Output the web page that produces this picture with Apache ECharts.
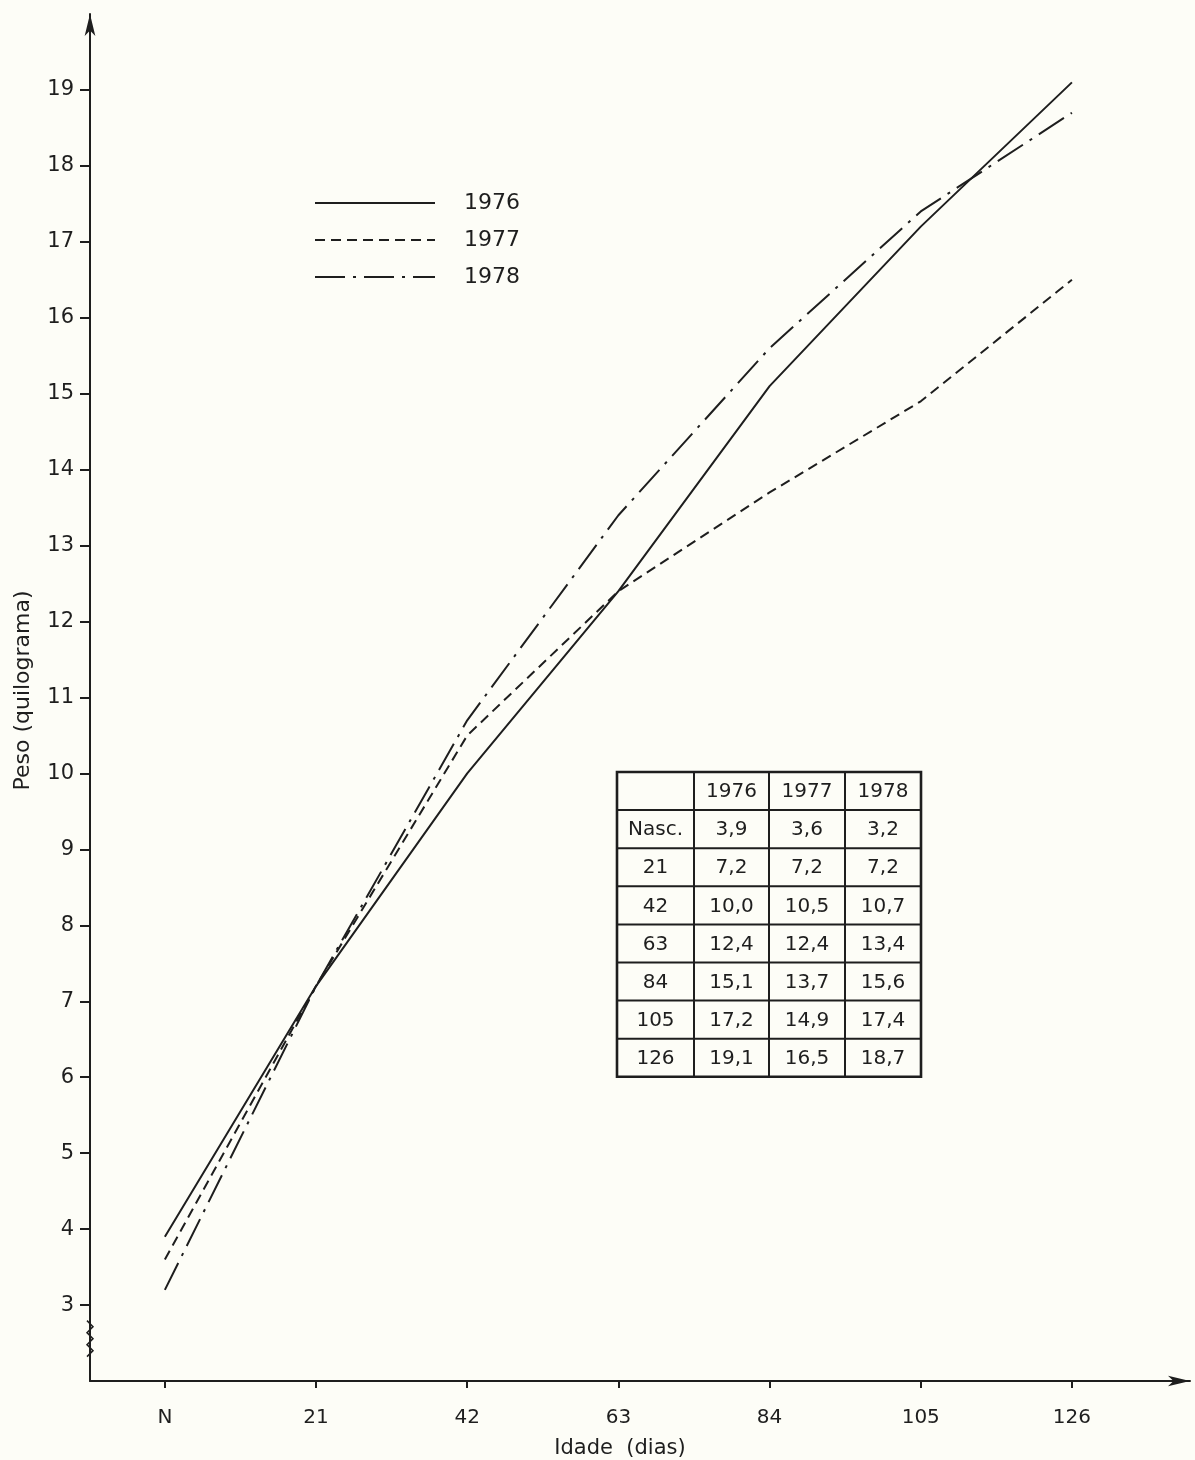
<!DOCTYPE html>
<html>
<head>
<meta charset="utf-8">
<script src="https://cdn.jsdelivr.net/npm/echarts@6/dist/echarts.min.js"></script>
<style>
  html, body { margin: 0; padding: 0; background: #fdfdf7; }
  #chart { width: 1195px; height: 1460px; }
</style>
</head>
<body>
<div id="chart"></div>
<script>
// idade (dias) e peso (kg)
var ages = [0, 21, 42, 63, 84, 105, 126];
var ageLabels = ['N', '21', '42', '63', '84', '105', '126'];
var tableLabels = ['Nasc.', '21', '42', '63', '84', '105', '126'];
var years = ['1976', '1977', '1978'];
var peso1976 = [3.9, 7.2, 10.0, 12.4, 15.1, 17.2, 19.1];
var peso1977 = [3.6, 7.2, 10.5, 12.4, 13.7, 14.9, 16.5];
var peso1978 = [3.2, 7.2, 10.7, 13.4, 15.6, 17.4, 18.7];
var yTicks = [3, 4, 5, 6, 7, 8, 9, 10, 11, 12, 13, 14, 15, 16, 17, 18, 19];

var ink = '#1e1e1e';
var font = 'DejaVu Sans';
var chart = echarts.init(document.getElementById('chart'));

function pairs(vals) {
  return ages.map(function (a, i) { return [a, vals[i]]; });
}

var dashes = [null, [10, 6], [30, 8, 3, 8]];
var seriesVals = [peso1976, peso1977, peso1978];

chart.setOption({
  backgroundColor: '#fdfdf7',
  animation: false,
  grid: { left: 90, right: 5, top: 14, bottom: 79, containLabel: false, outerBoundsMode: 'none' },
  legend: {
    orient: 'vertical',
    left: 309,
    top: 187,
    itemWidth: 120,
    itemHeight: 14,
    itemGap: 15,
    data: years,
    itemStyle: { opacity: 0 },
    textStyle: { color: ink, fontFamily: font, fontSize: 22, padding: [0, 0, 0, 24] }
  },
  xAxis: {
    type: 'value',
    min: -10.4,
    max: 142.4,
    name: 'Idade  (dias)',
    nameLocation: 'middle',
    nameGap: 57,
    nameTextStyle: { color: ink, fontFamily: font, fontSize: 21, padding: [0, 40, 0, 0] },
    splitLine: { show: false },
    axisLine: { onZero: false, lineStyle: { color: ink, width: 2 }, symbol: ['none', 'arrow'], symbolSize: [8, 22] },
    axisTick: { length: 7, lineStyle: { color: ink, width: 2 }, customValues: ages },
    axisLabel: {
      color: ink, fontFamily: font, fontSize: 20, margin: 27,
      customValues: ages,
      formatter: function (v) { return ageLabels[ages.indexOf(v)]; }
    }
  },
  yAxis: {
    type: 'value',
    min: 2,
    max: 20,
    name: 'Peso (quilograma)',
    nameLocation: 'middle',
    nameGap: 56,
    nameTextStyle: { color: ink, fontFamily: font, fontSize: 22, padding: [0, 0, 0, 14] },
    splitLine: { show: false },
    axisLine: { onZero: false, lineStyle: { color: ink, width: 2 }, symbol: ['none', 'arrow'], symbolSize: [8, 22] },
    axisTick: { length: 10, lineStyle: { color: ink, width: 2 }, customValues: yTicks },
    axisLabel: { color: ink, fontFamily: font, fontSize: 21, margin: 16, customValues: yTicks }
  },
  series: years.map(function (y, k) {
    return {
      name: y,
      type: 'line',
      symbol: 'none',
      data: pairs(seriesVals[k]),
      itemStyle: { color: ink },
      lineStyle: { color: ink, width: 2, type: dashes[k] || 'solid' }
    };
  })
});

var gfx = [];

// tabela montada a partir dos arrays
var tx = [617, 694, 769, 845, 921];
var ty0 = 772, rowH = 38.1;
var nRows = ages.length + 1;
gfx.push({
  type: 'rect',
  shape: { x: tx[0], y: ty0, width: tx[4] - tx[0], height: rowH * nRows },
  style: { fill: '#fdfdf7', stroke: ink, lineWidth: 2.6 }
});
for (var r = 1; r < nRows; r++) {
  gfx.push({ type: 'line', shape: { x1: tx[0], y1: ty0 + r * rowH, x2: tx[4], y2: ty0 + r * rowH },
    style: { stroke: ink, lineWidth: 2 } });
}
for (var c = 1; c < 4; c++) {
  gfx.push({ type: 'line', shape: { x1: tx[c], y1: ty0, x2: tx[c], y2: ty0 + rowH * nRows },
    style: { stroke: ink, lineWidth: 2 } });
}
function cell(text, c, r) {
  gfx.push({
    type: 'text',
    x: (tx[c] + tx[c + 1]) / 2,
    y: ty0 + r * rowH + rowH / 2 + 1,
    style: { text: text, fill: ink, font: '20px "' + font + '"', align: 'center', verticalAlign: 'middle' }
  });
}
years.forEach(function (y, k) { cell(y, k + 1, 0); });
tableLabels.forEach(function (lab, i) {
  cell(lab, 0, i + 1);
  seriesVals.forEach(function (vals, k) {
    cell(vals[i].toFixed(1).replace('.', ','), k + 1, i + 1);
  });
});

// quebra do eixo y
var p = chart.convertToPixel({ gridIndex: 0 }, [-10.4, 2.9]);
var zz = [];
for (var i = 0; i <= 6; i++) {
  zz.push([p[0] + (i % 2 ? 3 : -3), p[1] + 8 + i * 6]);
}
gfx.push({ type: 'polyline', shape: { points: zz }, style: { stroke: ink, lineWidth: 1.5, fill: null } });

chart.setOption({ graphic: gfx });
</script>
</body>
</html>
